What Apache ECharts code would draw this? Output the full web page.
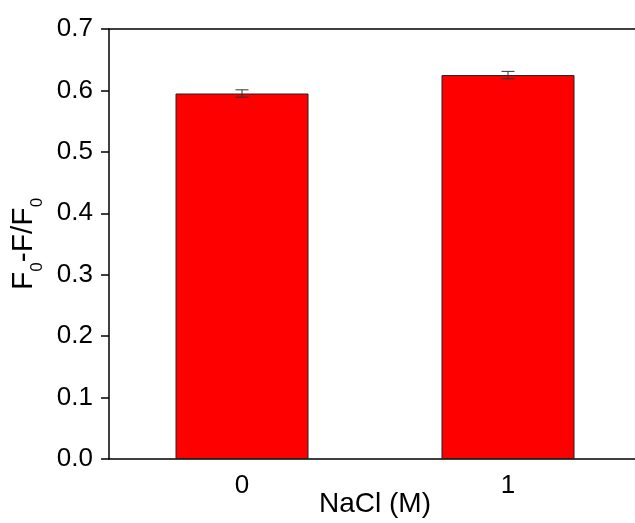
<!DOCTYPE html>
<html>
<head>
<meta charset="utf-8">
<script src="https://cdn.jsdelivr.net/npm/echarts@6/dist/echarts.min.js"></script>
<style>
  html, body { margin: 0; padding: 0; background: #fff; overflow: hidden; }
  #wrap { width: 635px; height: 523px; overflow: hidden; position: relative; }
  #chart { width: 660px; height: 523px; }
</style>
</head>
<body>
<div id="wrap"><div id="chart"></div></div>
<script>
var categories = ['0', '1'];
var values = [0.595, 0.625];
var errors = [0.006, 0.006];

var font = 'Liberation Sans, Arial, sans-serif';

var errData = categories.map((c, i) => [i, values[i] - errors[i], values[i] + errors[i]]);

const myChart = echarts.init(document.getElementById('chart'));

// error bars: vertical stem plus two caps
function renderErr(params, api) {
  var x = api.value(0);
  var lo = api.coord([x, api.value(1)]);
  var hi = api.coord([x, api.value(2)]);
  var hw = 6.5;
  var st = { stroke: '#333', lineWidth: 1 };
  return {
    type: 'group',
    children: [
      { type: 'line', shape: { x1: lo[0], y1: lo[1], x2: hi[0], y2: hi[1] }, style: st },
      { type: 'line', shape: { x1: hi[0] - hw, y1: hi[1], x2: hi[0] + hw, y2: hi[1] }, style: st },
      { type: 'line', shape: { x1: lo[0] - hw, y1: lo[1], x2: lo[0] + hw, y2: lo[1] }, style: st }
    ]
  };
}

var axisLineStyle = { color: '#000', width: 1.5 };

let option = {
  animation: false,
  textStyle: { fontFamily: font },
  grid: { left: 109, top: 29, width: 532, height: 430, outerBoundsMode: 'none' },
  xAxis: [{
    type: 'category', position: 'bottom', data: categories,
    name: 'NaCl (M)', nameLocation: 'middle', nameGap: 31, nameMoveOverlap: false,
    nameTextStyle: { fontSize: 28, color: '#000', fontFamily: font },
    axisLine: { lineStyle: axisLineStyle },
    axisTick: { alignWithLabel: true, length: 7, lineStyle: axisLineStyle },
    axisLabel: { fontSize: 26, color: '#000', margin: 14, fontFamily: font },
    splitLine: { show: false }
  }, {
    // short boundary ticks between the categories
    type: 'category', position: 'bottom', data: categories,
    axisLine: { show: false },
    axisTick: { length: 3, lineStyle: axisLineStyle },
    axisLabel: { show: false },
    splitLine: { show: false }
  }, {
    // top frame line
    type: 'category', position: 'top', data: categories,
    axisLine: { show: true, lineStyle: axisLineStyle },
    axisTick: { show: false }, axisLabel: { show: false }, splitLine: { show: false }
  }],
  yAxis: {
    type: 'value', min: 0, max: 0.7, interval: 0.1,
    name: '{n|F}{s|0}{n|-F/F}{s|0}', nameLocation: 'middle', nameGap: 63, nameMoveOverlap: false,
    nameTextStyle: {
      color: '#000',
      rich: {
        n: { fontSize: 30, color: '#000', fontFamily: font, verticalAlign: 'top' },
        s: { fontSize: 17, color: '#000', fontFamily: font, verticalAlign: 'top', padding: [20, 0, 0, 0] }
      }
    },
    axisLine: { show: true, lineStyle: axisLineStyle },
    axisTick: { show: true, length: 8, lineStyle: axisLineStyle },
    axisLabel: { fontSize: 26, color: '#000', margin: 16, fontFamily: font, formatter: v => v.toFixed(1) },
    splitLine: { show: false }
  },
  series: [{
    type: 'bar', data: values, barWidth: '50%',
    itemStyle: { color: '#ff0000', borderColor: '#222', borderWidth: 1 }
  }, {
    type: 'custom', renderItem: renderErr, data: errData, z: 5
  }]
};

myChart.setOption(option);
</script>
</body>
</html>
